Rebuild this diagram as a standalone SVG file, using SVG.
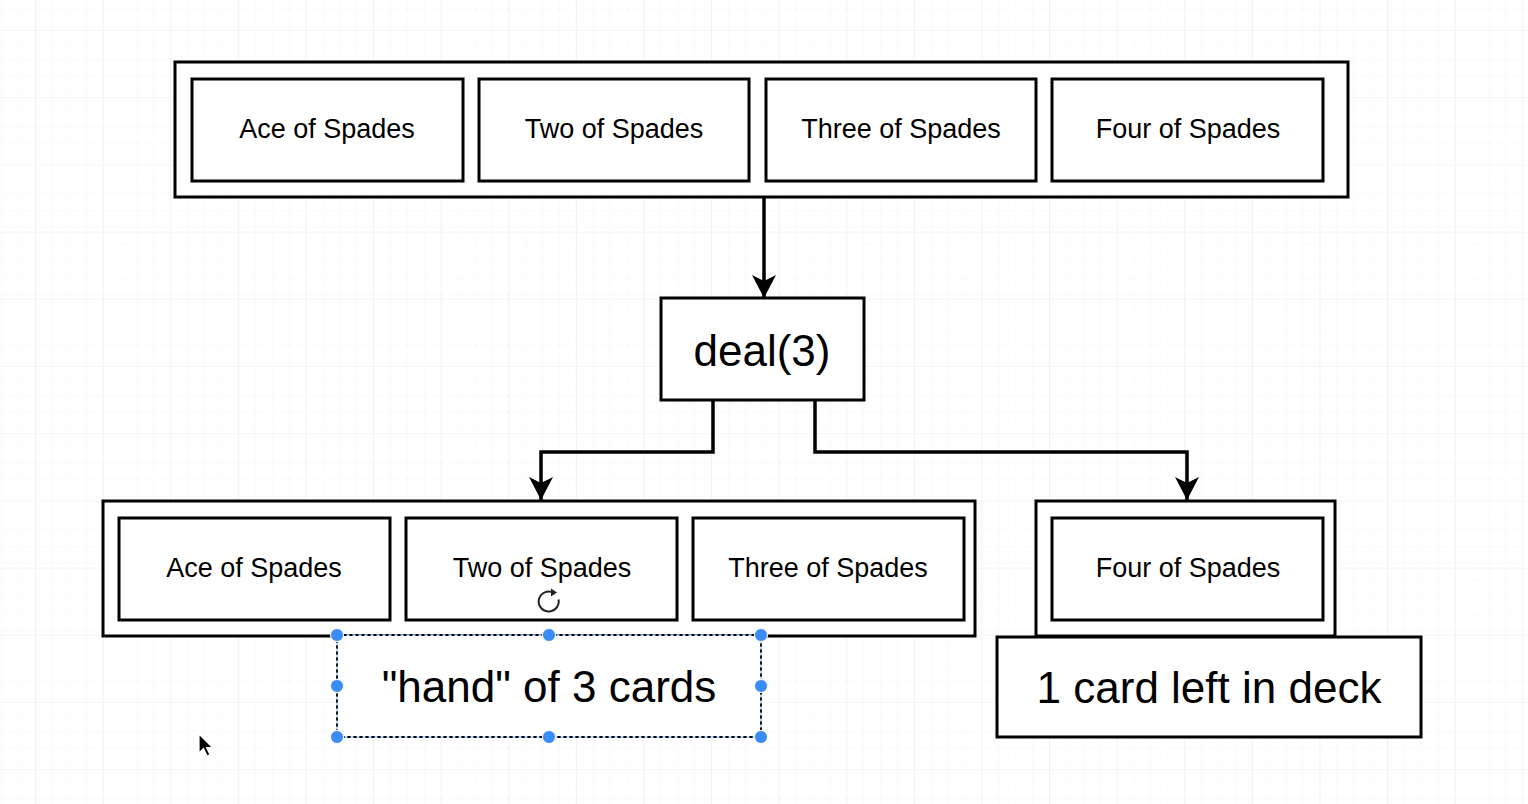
<svg xmlns="http://www.w3.org/2000/svg" width="1528" height="804" viewBox="0 0 1528 804">
<defs>
<pattern id="minor" x="35" y="30" width="16.9" height="16.9" patternUnits="userSpaceOnUse">
<path d="M16.9,0 V16.9 M0,16.9 H16.9" fill="none" stroke="#f6f6f6" stroke-width="1"/>
</pattern>
<pattern id="major" x="35" y="30" width="67.6" height="67.2" patternUnits="userSpaceOnUse">
<rect width="67.6" height="67.2" fill="url(#minor)"/>
<path d="M0,0 V67.2 M0,0 H67.6" fill="none" stroke="#ececec" stroke-width="1.2"/>
</pattern>
<marker id="arrow" markerUnits="userSpaceOnUse" markerWidth="26" markerHeight="26" viewBox="0 -13 24 26" refX="23" refY="0" orient="auto">
<path d="M0,-12 L23,0 L0,12 L6,0 z" fill="#000"/>
</marker>
</defs>
<style>
.box{fill:#fff;stroke:#000;stroke-width:3}
.lbl{font-family:"Liberation Sans",Arial,sans-serif;font-size:27px;fill:#000;text-anchor:middle;dominant-baseline:central}
.big{font-family:"Liberation Sans",Arial,sans-serif;font-size:44px;fill:#000;text-anchor:middle;dominant-baseline:central}
.conn{fill:none;stroke:#000;stroke-width:3.5;marker-end:url(#arrow)}
.handle{fill:#3b8cf5;stroke:#fff;stroke-width:1}
</style>
<rect width="1528" height="804" fill="#fff"/>
<rect width="1528" height="804" fill="url(#major)"/>

<g id="deck">
<rect class="box" x="175" y="62" width="1173" height="135"/>
<rect class="box" x="192" y="79" width="271" height="102"/>
<text class="lbl" x="327" y="129">Ace of Spades</text>
<rect class="box" x="479" y="79" width="270" height="102"/>
<text class="lbl" x="614" y="129">Two of Spades</text>
<rect class="box" x="766" y="79" width="270" height="102"/>
<text class="lbl" x="901" y="129">Three of Spades</text>
<rect class="box" x="1052" y="79" width="271" height="102"/>
<text class="lbl" x="1188" y="129">Four of Spades</text>
</g>

<g id="deal">
<rect class="box" x="661" y="298" width="203" height="102"/>
<text class="big" x="762" y="350">deal(3)</text>
</g>

<g id="hand">
<rect class="box" x="103" y="501" width="872" height="135"/>
<rect class="box" x="119" y="518" width="271" height="102"/>
<text class="lbl" x="254" y="568">Ace of Spades</text>
<rect class="box" x="406" y="518" width="271" height="102"/>
<text class="lbl" x="542" y="568">Two of Spades</text>
<rect class="box" x="693" y="518" width="271" height="102"/>
<text class="lbl" x="828" y="568">Three of Spades</text>
</g>

<g id="remaining">
<rect class="box" x="1036" y="501" width="299" height="135"/>
<rect class="box" x="1052" y="518" width="271" height="102"/>
<text class="lbl" x="1188" y="568">Four of Spades</text>
</g>

<g id="hand-label">
<rect x="337" y="635" width="424" height="102" fill="#fff" stroke="#000" stroke-width="1.8" stroke-dasharray="4 2"/>
<rect x="337" y="635" width="424" height="102" fill="none" stroke="#7fb2f5" stroke-width="1" stroke-dasharray="4 2" stroke-dashoffset="3"/>
<text class="big" x="549" y="686">"hand" of 3 cards</text>
<circle class="handle" cx="337" cy="635" r="6.5"/>
<circle class="handle" cx="549" cy="635" r="6.5"/>
<circle class="handle" cx="761" cy="635" r="6.5"/>
<circle class="handle" cx="337" cy="686" r="6.5"/>
<circle class="handle" cx="761" cy="686" r="6.5"/>
<circle class="handle" cx="337" cy="737" r="6.5"/>
<circle class="handle" cx="549" cy="737" r="6.5"/>
<circle class="handle" cx="761" cy="737" r="6.5"/>
<path d="M554,593 A10,10 0 1 0 558.5,599.5" fill="none" stroke="#222" stroke-width="2"/>
<path d="M551,588.5 L557,592.5 L551,596.5 z" fill="#222"/>
</g>

<g id="deck-label">
<rect class="box" x="997" y="637" width="424" height="100"/>
<text class="big" x="1209" y="687">1 card left in deck</text>
</g>

<g id="connectors">
<path class="conn" d="M764,197 V298"/>
<path class="conn" d="M713,400 V452 H541 V500"/>
<path class="conn" d="M815,400 V452 H1187 V500"/>
</g>

<g id="cursor">
<path d="M199,734 L199,753 L203.5,748.5 L207,756 L210,754.5 L206.5,747.5 L212.5,747.5 z" fill="#000" stroke="#fff" stroke-width="1.2"/>
</g>
</svg>
